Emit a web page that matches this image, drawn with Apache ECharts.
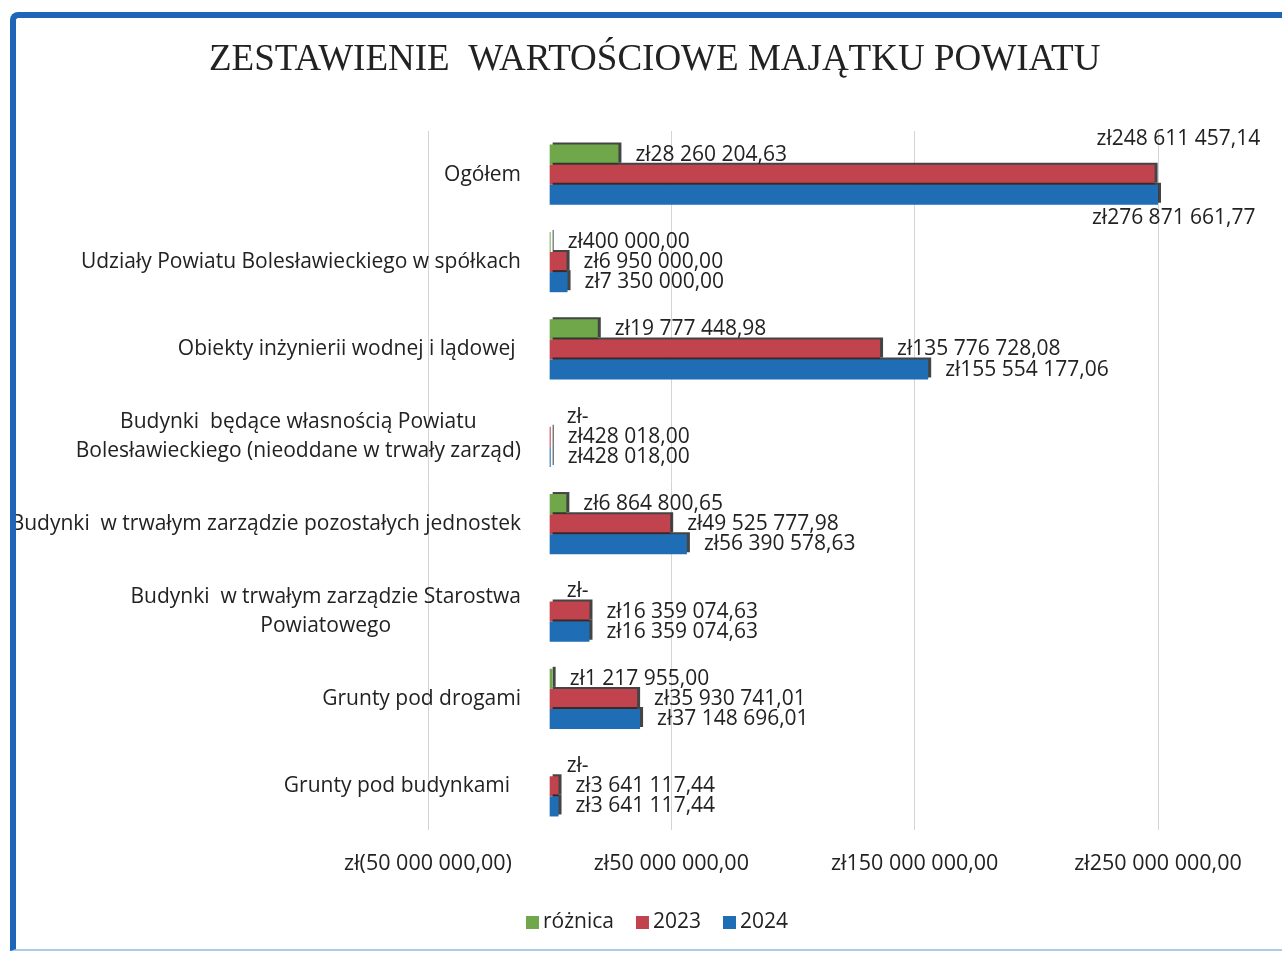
<!DOCTYPE html>
<html>
<head>
<meta charset="utf-8">
<script src="https://cdn.jsdelivr.net/npm/echarts@6/dist/echarts.min.js"></script>
<style>
  html, body { margin: 0; padding: 0; background: #fff; }
  #main { width: 1282px; height: 955px; }
  .frame {
    position: absolute; left: 10px; top: 12px; width: 1300px; height: 931px;
    border-left: 6px solid #1f66b8; border-top: 6px solid #1f66b8;
    border-bottom: 2px solid #a9cbec; border-top-left-radius: 8px;
    pointer-events: none; z-index: 5;
  }
</style>
</head>
<body>
<div id="main"></div>
<div class="frame"></div>
<script>
// kategorie (od góry)
var categories = [
  'Ogółem',
  'Udziały Powiatu Bolesławieckiego w spółkach',
  'Obiekty inżynierii wodnej i lądowej ',
  'Budynki  będące własnością Powiatu\nBolesławieckiego (nieoddane w trwały zarząd)',
  'Budynki  w trwałym zarządzie pozostałych jednostek',
  'Budynki  w trwałym zarządzie Starostwa\nPowiatowego',
  'Grunty pod drogami',
  'Grunty pod budynkami  '
]
var roznica = [28260204.63, 400000.00, 19777448.98, 0, 6864800.65, 0, 1217955.00, 0]
var y2023 = [248611457.14, 6950000.00, 135776728.08, 428018.00, 49525777.98, 16359074.63, 35930741.01, 3641117.44]
var y2024 = [276871661.77, 7350000.00, 155554177.06, 428018.00, 56390578.63, 16359074.63, 37148696.01, 3641117.44]
// podpisy osi X
var xTicks = [-50000000, 50000000, 150000000, 250000000]

var FONT = '"Open Sans", "Noto Sans", sans-serif'

function zl(v) {
  if (v === 0) return 'zł-'
  var parts = Math.abs(v).toFixed(2).split('.')
  var s = parts[0].replace(/\B(?=(\d{3})+(?!\d))/g, ' ') + ',' + parts[1]
  return v < 0 ? 'zł(' + s + ')' : 'zł' + s
}

var labelBase = {
  show: true,
  position: 'right',
  distance: 17,
  color: '#222',
  fontSize: 21,
  fontFamily: FONT,
  formatter: function (p) { return zl(p.value) }
}

// Ogółem: podpisy 2023 / 2024 przesunięte jak w oryginale
var data2023 = y2023.map(function (v, i) {
  return i === 0 ? { value: v, label: { offset: [-75, -36] } } : v
})
var data2024 = y2024.map(function (v, i) {
  return i === 0 ? { value: v, label: { offset: [-83, 23] } } : v
})

var barShadow = { shadowColor: 'rgba(35,35,35,0.85)', shadowOffsetX: 3, shadowOffsetY: -2, shadowBlur: 0 }

var chart = echarts.init(document.getElementById('main'))
var option = {
  backgroundColor: '#fff',
  animation: false,
  title: {
    text: 'ZESTAWIENIE  WARTOŚCIOWE MAJĄTKU POWIATU',
    left: 204,
    top: 37,
    textStyle: { fontFamily: '"Liberation Serif", "DejaVu Serif", serif', fontSize: 37, fontWeight: 'normal', color: '#222' }
  },
  legend: {
    data: ['różnica', '2023', '2024'],
    left: 521,
    top: 907,
    itemWidth: 13,
    itemHeight: 13,
    itemGap: 22,
    icon: 'rect',
    textStyle: { fontFamily: FONT, fontSize: 21, color: '#222', padding: [0, 0, 0, -1] }
  },
  grid: { left: 428, right: 124, top: 131, bottom: 125, outerBoundsMode: 'none' },
  xAxis: {
    type: 'value',
    min: -50000000,
    max: 250000000,
    axisLine: { show: false },
    axisTick: { show: false, customValues: xTicks },
    splitLine: { show: true, lineStyle: { color: '#d4d4d4', width: 1 } },
    axisLabel: {
      customValues: xTicks,
      margin: 23,
      fontFamily: FONT,
      fontSize: 21.5,
      color: '#222',
      formatter: zl
    }
  },
  yAxis: {
    type: 'category',
    inverse: true,
    data: categories,
    axisLine: { show: false, onZero: false },
    axisTick: { show: false },
    axisLabel: {
      // etykiety przy osi zera (x = 0), nie przy lewej krawędzi siatki
      margin: -93,
      fontFamily: FONT,
      fontSize: 21,
      color: '#222',
      lineHeight: 29,
      formatter: function (v) {
        return v.split('\n').map(function (l) { return '{c|' + l + '}' }).join('\n')
      },
      rich: { c: { align: 'center', fontFamily: FONT, fontSize: 21, color: '#222', lineHeight: 29 } }
    }
  },
  series: [
    {
      name: 'różnica', type: 'bar', data: roznica,
      barGap: 0, barCategoryGap: '31%',
      itemStyle: Object.assign({ color: '#6fa74a' }, barShadow),
      label: labelBase
    },
    {
      name: '2023', type: 'bar', data: data2023,
      barGap: 0, barCategoryGap: '31%',
      itemStyle: Object.assign({ color: '#c0434e' }, barShadow),
      label: labelBase
    },
    {
      name: '2024', type: 'bar', data: data2024,
      barGap: 0, barCategoryGap: '31%',
      itemStyle: Object.assign({ color: '#1f6db4' }, barShadow),
      label: labelBase
    }
  ]
}
chart.setOption(option)
</script>
</body>
</html>
